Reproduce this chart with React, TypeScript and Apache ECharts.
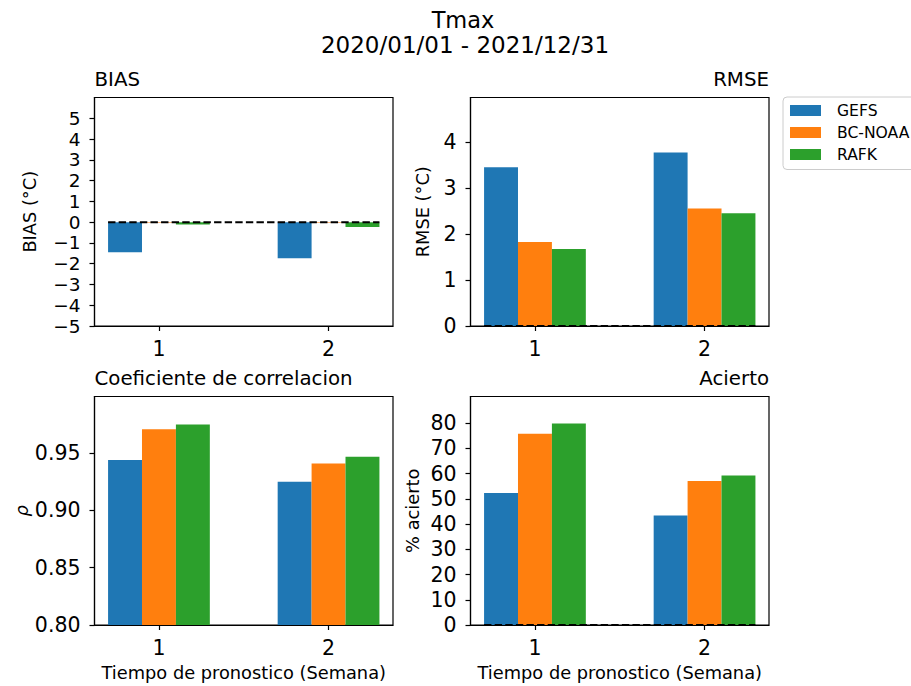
import React, { useEffect, useRef } from "react";
import * as echarts from "echarts";

const weeks = [1, 2];
const modelNames = ["GEFS", "BC-NOAA", "RAFK"];
const modelColors = ["#1f77b4", "#ff7f0e", "#2ca02c"];

const biasGEFS = [-1.45, -1.74];
const biasBC = [-0.03, -0.03];
const biasRAFK = [-0.11, -0.24];

const rmseGEFS = [3.46, 3.78];
const rmseBC = [1.83, 2.56];
const rmseRAFK = [1.68, 2.46];

const corrGEFS = [0.944, 0.925];
const corrBC = [0.971, 0.941];
const corrRAFK = [0.975, 0.947];

const acGEFS = [52.3, 43.4];
const acBC = [75.7, 57.0];
const acRAFK = [79.8, 59.2];

const biasTicks = [-5, -4, -3, -2, -1, 0, 1, 2, 3, 4, 5];
const rmseTicks = [0, 1, 2, 3, 4];
const corrTicks = [0.8, 0.85, 0.9, 0.95];
const acTicks = [0, 10, 20, 30, 40, 50, 60, 70, 80];

const mainTitle = "Tmax";
const subTitle = "2020/01/01 - 2021/12/31";
const xLabel = "Tiempo de pronostico (Semana)";

const FONT = "DejaVu Sans";

export default function App() {
  const ref = useRef<HTMLDivElement>(null);

  useEffect(() => {
    if (!ref.current) return;
    const chart = echarts.init(ref.current, null, { renderer: "svg" });

    const panels = [
      { title: "BIAS", align: "left", yName: "BIAS (°C)", yMin: -5, yMax: 6, ticks: biasTicks, data: [biasGEFS, biasBC, biasRAFK], zero: true, dec: 0, xName: "", nameGap: 56, italic: false, fs: 18.5 },
      { title: "RMSE", align: "right", yName: "RMSE (°C)", yMin: 0, yMax: 4.98, ticks: rmseTicks, data: [rmseGEFS, rmseBC, rmseRAFK], zero: true, dec: 0, xName: "", nameGap: 39, italic: false, fs: 20.5 },
      { title: "Coeficiente de correlacion", align: "left", yName: "ρ", yMin: 0.8, yMax: 0.9995, ticks: corrTicks, data: [corrGEFS, corrBC, corrRAFK], zero: false, dec: 2, xName: xLabel, nameGap: 46, italic: true, fs: 20.5 },
      { title: "Acierto", align: "right", yName: "% acierto", yMin: 0, yMax: 90.5, ticks: acTicks, data: [acGEFS, acBC, acRAFK], zero: true, dec: 0, xName: xLabel, nameGap: 49, italic: false, fs: 20.5 },
    ];

    const lefts = [94.5, 470.5];
    const tops = [97.5, 396.5];
    const W = 298.5;
    const H = 228.5;

    const grids: any[] = [];
    const xAxes: any[] = [];
    const yAxes: any[] = [];
    const series: any[] = [];
    const graphics: any[] = [];

    const fmt = (v: number, dec: number) => {
      const s = Math.abs(v).toFixed(dec);
      return v < 0 ? "\u2212" + s : s;
    };

    panels.forEach((p, i) => {
      const left = lefts[i % 2];
      const top = tops[Math.floor(i / 2)];
      grids.push({ left, top, width: W, height: H, show: true, borderColor: "#000", borderWidth: 1.2, backgroundColor: "#fff" });
      xAxes.push({
        type: "value",
        gridIndex: i,
        min: 0.62,
        max: 2.38,
        name: p.xName,
        nameLocation: "middle",
        nameGap: 38,
        nameTextStyle: { fontFamily: FONT, fontSize: 17.8, color: "#000" },
        axisLine: { show: true, onZero: false, lineStyle: { color: "#000", width: 1.2 } },
        axisTick: { show: true, length: 5, customValues: weeks, lineStyle: { color: "#000", width: 1.2 } },
        axisLabel: { customValues: weeks, interval: 0, margin: 12, hideOverlap: false, fontFamily: FONT, fontSize: 20.5, color: "#000", formatter: (v: number) => String(v) },
        splitLine: { show: false },
      });
      yAxes.push({
        type: "value",
        gridIndex: i,
        min: p.yMin,
        max: p.yMax,
        name: p.yName,
        nameLocation: "middle",
        nameGap: p.nameGap,
        nameRotate: 90,
        nameTextStyle: { fontFamily: FONT, fontSize: 17.8, color: "#000", fontStyle: p.italic ? "italic" : "normal" },
        axisLine: { show: true, lineStyle: { color: "#000", width: 1.2 } },
        axisTick: { show: true, length: 5, customValues: p.ticks, lineStyle: { color: "#000", width: 1.2 } },
        axisLabel: {
          customValues: p.ticks,
          interval: 0,
          margin: 14,
          hideOverlap: false,
          showMinLabel: true,
          showMaxLabel: true,
          fontFamily: FONT,
          fontSize: p.fs,
          lineHeight: p.fs - 1,
          color: "#000",
          formatter: (v: number) => fmt(v, p.dec),
        },
        splitLine: { show: false },
      });

      const base = Math.max(0, p.yMin);
      p.data.forEach((vals, m) => {
        const offset = (m - 1) * 0.2;
        const color = modelColors[m];
        series.push({
          type: "custom",
          name: modelNames[m],
          xAxisIndex: i,
          yAxisIndex: i,
          itemStyle: { color },
          encode: { x: 0, y: 1 },
          data: weeks.map((w, k) => [w, vals[k]]),
          renderItem: (params: any, api: any) => {
            const x = api.value(0) + offset;
            const v = api.value(1);
            const a = api.coord([x - 0.1, v]);
            const b = api.coord([x + 0.1, base]);
            return {
              type: "rect",
              shape: { x: a[0], y: Math.min(a[1], b[1]), width: b[0] - a[0], height: Math.abs(b[1] - a[1]) },
              style: { fill: color },
            };
          },
          z: 2,
        });
      });

      if (p.zero) {
        series.push({
          type: "line",
          xAxisIndex: i,
          yAxisIndex: i,
          data: [[0.7, 0], [2.3, 0]],
          symbol: "none",
          silent: true,
          lineStyle: { color: "#000", width: 2, type: [7.4, 3.2] },
          z: 5,
        });
      }

      const ty = top - 18;
      graphics.push({
        type: "text",
        x: p.align === "left" ? left : left + W,
        y: ty,
        style: { text: p.title, fontFamily: FONT, fontSize: 19.8, fill: "#000", textAlign: p.align, textVerticalAlign: "middle" },
      });
    });

    graphics.push({
      type: "text",
      x: 463,
      y: 20,
      style: { text: mainTitle, fontFamily: FONT, fontSize: 22.5, fill: "#000", textAlign: "center", textVerticalAlign: "middle" },
    });
    graphics.push({
      type: "text",
      x: 465,
      y: 45,
      style: { text: subTitle, fontFamily: FONT, fontSize: 23, fill: "#000", textAlign: "center", textVerticalAlign: "middle" },
    });

    chart.setOption({
      animation: false,
      backgroundColor: "#fff",
      grid: grids,
      xAxis: xAxes,
      yAxis: yAxes,
      series,
      graphic: graphics,
      legend: {
        orient: "vertical",
        left: 783,
        top: 97,
        data: modelNames.map((n) => ({ name: n, icon: "rect" })),
        itemWidth: 31,
        itemHeight: 11,
        itemGap: 6,
        padding: [5.5, 30, 7, 7],
        borderColor: "#cccccc",
        borderWidth: 1,
        borderRadius: 4,
        backgroundColor: "#fff",
        textStyle: { fontFamily: FONT, fontSize: 15.6, color: "#000", lineHeight: 16, padding: [0, 0, 0, 11] },
      },
    });

    return () => chart.dispose();
  }, []);

  return (
    <div
      ref={ref}
      style={{ position: "fixed", left: 0, top: 0, width: 911, height: 686, background: "#fff" }}
    />
  );
}
